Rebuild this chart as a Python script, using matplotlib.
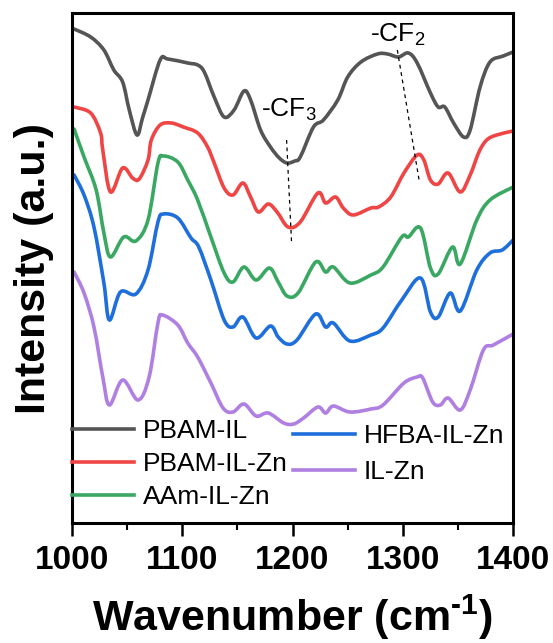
import numpy as np
import matplotlib
matplotlib.use("Agg")
import matplotlib.pyplot as plt
from matplotlib.ticker import MultipleLocator
from matplotlib.path import Path
from matplotlib.patches import PathPatch
from matplotlib.lines import Line2D

plt.rcParams['font.family'] = ['Liberation Sans', 'DejaVu Sans']
plt.rcParams['mathtext.fontset'] = 'custom'
plt.rcParams['mathtext.rm'] = 'Liberation Sans'
plt.rcParams['mathtext.bf'] = 'Liberation Sans:bold'

# stacked FTIR spectra (offset, arbitrary units)
wn_pbam_il = [1002, 1017, 1029, 1038, 1046, 1052, 1059, 1064, 1069, 1080, 1087, 1105, 1114, 1120, 1129,
              1138, 1147, 1156, 1162, 1171, 1180, 1188, 1195, 1202, 1207, 1219, 1228, 1241, 1250, 1262,
              1277, 1286, 1296, 1305, 1313, 1325, 1332, 1338, 1346, 1355, 1361, 1370, 1379, 1391, 1400]
i_pbam_il = [494, 486, 473, 453, 441, 413, 388, 405, 423, 463, 464, 460, 458, 451, 426,
             406, 413, 432, 423, 393, 376, 365, 360, 362, 366, 396, 403, 423, 446, 461,
             469, 469, 466, 470, 460, 430, 416, 416, 400, 386, 393, 436, 461, 467, 471]

wn_pbam_zn = [1002, 1017, 1026, 1028, 1035, 1046, 1055, 1061, 1069, 1072, 1080, 1090, 1101, 1114, 1123,
              1129, 1138, 1146, 1155, 1162, 1169, 1178, 1186, 1196, 1207, 1223, 1230, 1239, 1246, 1255,
              1271, 1278, 1289, 1301, 1313, 1319, 1325, 1332, 1341, 1352, 1361, 1369, 1376, 1385, 1400]
i_pbam_zn = [416, 410, 390, 373, 331, 355, 345, 344, 363, 383, 398, 400, 396, 390, 376,
             360, 335, 328, 340, 326, 311, 319, 311, 296, 301, 330, 320, 326, 315, 308,
             315, 316, 326, 350, 368, 363, 343, 339, 350, 331, 348, 371, 383, 388, 392]

wn_aam_zn = [1002, 1011, 1022, 1029, 1035, 1047, 1058, 1069, 1078, 1083, 1096, 1105, 1114, 1126, 1138,
             1146, 1156, 1167, 1179, 1187, 1195, 1205, 1221, 1230, 1237, 1252, 1271, 1282, 1299, 1305,
             1316, 1325, 1332, 1345, 1352, 1367, 1379, 1400]
i_aam_zn = [394, 366, 333, 290, 266, 286, 282, 303, 360, 367, 361, 343, 323, 286, 250,
            241, 256, 243, 255, 241, 227, 230, 261, 251, 256, 240, 248, 256, 286, 286,
            295, 255, 249, 276, 259, 303, 323, 336]

wn_hfba_zn = [1002, 1011, 1020, 1029, 1034, 1044, 1058, 1069, 1078, 1083, 1096, 1108, 1115, 1126, 1138,
              1146, 1155, 1167, 1180, 1187, 1195, 1204, 1221, 1230, 1237, 1252, 1271, 1282, 1299, 1316,
              1325, 1332, 1343, 1352, 1367, 1379, 1390, 1400]
i_hfba_zn = [348, 328, 296, 240, 203, 231, 229, 253, 301, 309, 305, 285, 276, 243, 203,
             196, 206, 185, 197, 186, 179, 183, 209, 196, 200, 182, 188, 195, 223, 245,
             211, 206, 230, 212, 253, 270, 273, 283]

wn_il_zn = [1002, 1011, 1020, 1028, 1034, 1046, 1060, 1070, 1078, 1082, 1096, 1105, 1114, 1126, 1137,
            1146, 1156, 1167, 1178, 1192, 1201, 1210, 1223, 1230, 1237, 1252, 1271, 1282, 1301, 1313,
            1318, 1327, 1334, 1341, 1352, 1361, 1373, 1382, 1400]
i_il_zn = [251, 230, 196, 146, 118, 143, 123, 146, 200, 208, 198, 180, 166, 140, 115,
           111, 119, 107, 110, 100, 99, 105, 116, 110, 117, 111, 114, 118, 140, 146,
           145, 121, 118, 125, 113, 133, 173, 178, 189]

labels = ['PBAM-IL', 'PBAM-IL-Zn', 'AAm-IL-Zn', 'HFBA-IL-Zn', 'IL-Zn']
colors = ['#555555', '#f04545', '#3aa862', '#1e6fdc', '#b07fe2']


def smooth_path(x, y):
    # catmull-rom through the read points, drawn as cubic bezier segments
    p = np.column_stack([x, y]).astype(float)
    ext = np.vstack([p[0], p, p[-1]])
    verts = [p[0]]
    codes = [Path.MOVETO]
    for i in range(1, len(ext) - 2):
        c1 = ext[i] + (ext[i + 1] - ext[i - 1]) / 6
        c2 = ext[i + 1] - (ext[i + 2] - ext[i]) / 6
        verts += [c1, c2, ext[i + 1]]
        codes += [Path.CURVE4] * 3
    return Path(verts, codes)


fig = plt.figure(figsize=(5.53, 6.43), dpi=100)
ax = fig.add_axes([0.130, 0.1866, 0.798, 0.7932])

series = [(wn_pbam_il, i_pbam_il), (wn_pbam_zn, i_pbam_zn), (wn_aam_zn, i_aam_zn),
          (wn_hfba_zn, i_hfba_zn), (wn_il_zn, i_il_zn)]
handles = []
for (x, y), lab, c in zip(series, labels, colors):
    ax.add_patch(PathPatch(smooth_path(x, y), fill=False, edgecolor=c, lw=2.6,
                           joinstyle='round', capstyle='round'))
    handles.append(Line2D([], [], color=c, lw=2.6, label=lab))

# peak guides
ax.plot([1194.6, 1199.1], [383, 281], color='black', lw=0.9, ls=(0, (3, 3)))
ax.plot([1295, 1315], [473, 341], color='black', lw=0.9, ls=(0, (3, 3)))
ax.text(1171, 413, '-CF$_3$', fontsize=19, ha='left', va='center')
ax.text(1270, 488, '-CF$_2$', fontsize=19, ha='left', va='center')

ax.set_xlim(1000, 1400)
ax.set_ylim(0, 510)
ax.set_yticks([])
ax.xaxis.set_major_locator(MultipleLocator(100))
ax.xaxis.set_minor_locator(MultipleLocator(50))
ax.tick_params(axis='x', which='major', direction='out', length=9, width=1.8, pad=7, labelsize=24)
ax.tick_params(axis='x', which='minor', direction='out', length=5, width=1.5)
for lab in ax.get_xticklabels():
    lab.set_fontweight('bold')
for s in ax.spines.values():
    s.set_linewidth(2.2)

ax.set_xlabel('Wavenumber (cm$^{\\mathbf{\u2010}\\mathbf{1}}$)', fontsize=31, fontweight='bold', labelpad=12)
ax.set_ylabel('Intensity (a.u.)', fontsize=31, fontweight='bold', labelpad=13)

leg1 = ax.legend(handles=handles[:3], loc='upper left', bbox_to_anchor=(0.0, 0.204),
                 frameon=False, fontsize=19, handlelength=2.35, handletextpad=0.35,
                 labelspacing=0.35, borderpad=0, borderaxespad=0)
ax.add_artist(leg1)
ax.legend(handles=handles[3:], loc='upper left', bbox_to_anchor=(0.5, 0.194),
          frameon=False, fontsize=19, handlelength=2.35, handletextpad=0.35,
          labelspacing=0.45, borderpad=0, borderaxespad=0)

fig.savefig('out.png', dpi=100)
